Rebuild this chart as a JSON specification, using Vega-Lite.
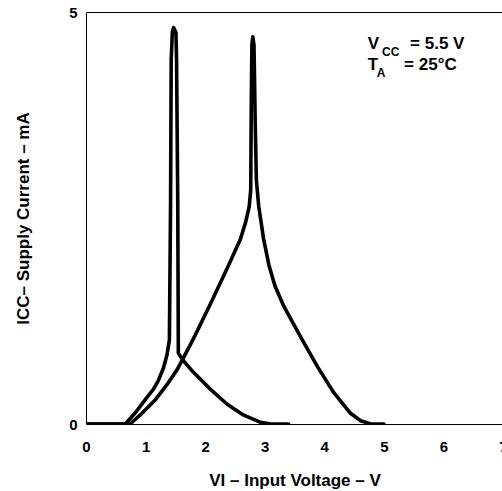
{
  "$schema": "https://vega.github.io/schema/vega-lite/v6.json",
  "width": 417,
  "height": 412,
  "autosize": "none",
  "padding": {"left": 86, "top": 12, "right": 0, "bottom": 67},
  "background": "white",
  "config": {
    "view": {"stroke": "black", "strokeWidth": 1},
    "font": "Liberation Sans",
    "text": {"font": "Liberation Sans"}
  },
  "datasets": {
    "curves": [
      {"curve": "A", "o": 1, "v": 0, "i": 0},
      {"curve": "A", "o": 2, "v": 0.66, "i": 0},
      {"curve": "A", "o": 3, "v": 0.82, "i": 0.13},
      {"curve": "A", "o": 4, "v": 1.03, "i": 0.33},
      {"curve": "A", "o": 5, "v": 1.13, "i": 0.42},
      {"curve": "A", "o": 6, "v": 1.21, "i": 0.52},
      {"curve": "A", "o": 7, "v": 1.3, "i": 0.68},
      {"curve": "A", "o": 8, "v": 1.36, "i": 0.84},
      {"curve": "A", "o": 9, "v": 1.4, "i": 1.02},
      {"curve": "A", "o": 10, "v": 1.42, "i": 2.72},
      {"curve": "A", "o": 11, "v": 1.43, "i": 4.42},
      {"curve": "A", "o": 12, "v": 1.45, "i": 4.76},
      {"curve": "A", "o": 13, "v": 1.47, "i": 4.81},
      {"curve": "A", "o": 14, "v": 1.51, "i": 4.75},
      {"curve": "A", "o": 15, "v": 1.52, "i": 4.42},
      {"curve": "A", "o": 16, "v": 1.54, "i": 2.72},
      {"curve": "A", "o": 17, "v": 1.55, "i": 0.86},
      {"curve": "A", "o": 18, "v": 1.62, "i": 0.78},
      {"curve": "A", "o": 19, "v": 1.8, "i": 0.63},
      {"curve": "A", "o": 20, "v": 2.09, "i": 0.42},
      {"curve": "A", "o": 21, "v": 2.37, "i": 0.24},
      {"curve": "A", "o": 22, "v": 2.64, "i": 0.11},
      {"curve": "A", "o": 23, "v": 2.93, "i": 0.02},
      {"curve": "A", "o": 24, "v": 3.1, "i": 0},
      {"curve": "A", "o": 25, "v": 3.4, "i": 0},
      {"curve": "B", "o": 1, "v": 0, "i": 0},
      {"curve": "B", "o": 2, "v": 0.74, "i": 0},
      {"curve": "B", "o": 3, "v": 0.94, "i": 0.13},
      {"curve": "B", "o": 4, "v": 1.16, "i": 0.29},
      {"curve": "B", "o": 5, "v": 1.38, "i": 0.5},
      {"curve": "B", "o": 6, "v": 1.53, "i": 0.66},
      {"curve": "B", "o": 7, "v": 1.62, "i": 0.78},
      {"curve": "B", "o": 8, "v": 1.8, "i": 1.03},
      {"curve": "B", "o": 9, "v": 2.09, "i": 1.46},
      {"curve": "B", "o": 10, "v": 2.39, "i": 1.92},
      {"curve": "B", "o": 11, "v": 2.59, "i": 2.24},
      {"curve": "B", "o": 12, "v": 2.68, "i": 2.45},
      {"curve": "B", "o": 13, "v": 2.74, "i": 2.64},
      {"curve": "B", "o": 14, "v": 2.765, "i": 2.84},
      {"curve": "B", "o": 15, "v": 2.775, "i": 3.93},
      {"curve": "B", "o": 16, "v": 2.785, "i": 4.6},
      {"curve": "B", "o": 17, "v": 2.8, "i": 4.7},
      {"curve": "B", "o": 18, "v": 2.82, "i": 4.6},
      {"curve": "B", "o": 19, "v": 2.84, "i": 3.69},
      {"curve": "B", "o": 20, "v": 2.86, "i": 2.96},
      {"curve": "B", "o": 21, "v": 2.9, "i": 2.64},
      {"curve": "B", "o": 22, "v": 2.98, "i": 2.25},
      {"curve": "B", "o": 23, "v": 3.07, "i": 1.93},
      {"curve": "B", "o": 24, "v": 3.17, "i": 1.68},
      {"curve": "B", "o": 25, "v": 3.32, "i": 1.43},
      {"curve": "B", "o": 26, "v": 3.6, "i": 1.06},
      {"curve": "B", "o": 27, "v": 3.89, "i": 0.69},
      {"curve": "B", "o": 28, "v": 4.16, "i": 0.38},
      {"curve": "B", "o": 29, "v": 4.44, "i": 0.13},
      {"curve": "B", "o": 30, "v": 4.61, "i": 0.04},
      {"curve": "B", "o": 31, "v": 4.78, "i": 0},
      {"curve": "B", "o": 32, "v": 5.0, "i": 0}
    ],
    "notes_main": [
      {"v": 4.73, "i": 4.55, "t": "V"},
      {"v": 5.44, "i": 4.55, "t": "= 5.5 V"},
      {"v": 4.73, "i": 4.3, "t": "T"},
      {"v": 5.34, "i": 4.3, "t": "= 25°C"}
    ],
    "notes_sub": [
      {"v": 4.97, "i": 4.47, "t": "CC"},
      {"v": 4.88, "i": 4.21, "t": "A"}
    ]
  },
  "layer": [
    {
      "data": {"name": "curves"},
      "mark": {"type": "line", "color": "black", "strokeWidth": 3.6, "strokeJoin": "round", "strokeCap": "round", "clip": true},
      "encoding": {
        "x": {
          "field": "v", "type": "quantitative",
          "scale": {"domain": [0, 7], "nice": false, "zero": false},
          "axis": {
            "values": [0, 1, 2, 3, 4, 5, 6, 7], "format": "d",
            "ticks": false, "grid": false, "domain": false,
            "labelFont": "Liberation Sans", "labelFontWeight": "bold", "labelFontSize": 15, "labelColor": "black",
            "labelPadding": 15, "labelFlush": false, "labelOverlap": false, "labelBound": false,
            "title": "VI – Input Voltage – V",
            "titleFont": "Liberation Sans", "titleFontWeight": "bold", "titleFontSize": 17, "titleColor": "black",
            "titlePadding": 18
          }
        },
        "y": {
          "field": "i", "type": "quantitative",
          "scale": {"domain": [0, 5], "nice": false, "zero": false},
          "axis": {
            "values": [0, 5], "format": "d",
            "ticks": false, "grid": false, "domain": false,
            "labelFont": "Liberation Sans", "labelFontWeight": "bold", "labelFontSize": 15, "labelColor": "black",
            "labelPadding": 9,
            "title": "ICC– Supply Current – mA",
            "titleFont": "Liberation Sans", "titleFontWeight": "bold", "titleFontSize": 17, "titleColor": "black",
            "titlePadding": 36
          }
        },
        "detail": {"field": "curve", "type": "nominal"},
        "order": {"field": "o", "type": "quantitative"}
      }
    },
    {
      "data": {"name": "notes_main"},
      "mark": {"type": "text", "align": "left", "baseline": "alphabetic", "fontSize": 17, "fontWeight": "bold", "color": "black", "font": "Liberation Sans"},
      "encoding": {
        "x": {"field": "v", "type": "quantitative"},
        "y": {"field": "i", "type": "quantitative"},
        "text": {"field": "t"}
      }
    },
    {
      "data": {"name": "notes_sub"},
      "mark": {"type": "text", "align": "left", "baseline": "alphabetic", "fontSize": 12, "fontWeight": "bold", "color": "black", "font": "Liberation Sans"},
      "encoding": {
        "x": {"field": "v", "type": "quantitative"},
        "y": {"field": "i", "type": "quantitative"},
        "text": {"field": "t"}
      }
    }
  ]
}
